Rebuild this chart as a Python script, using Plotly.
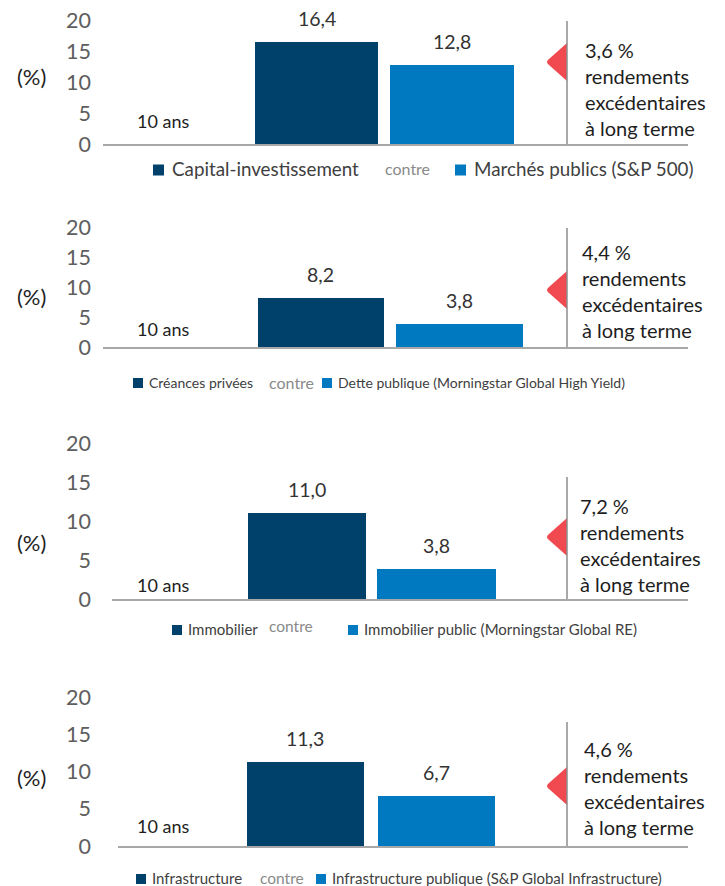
import plotly.graph_objects as go

# ---------------- data ----------------
horizon_label = "10 ans"
private_names = ["Capital-investissement", "Créances privées", "Immobilier", "Infrastructure"]
public_names = ["Marchés publics (S&P 500)",
                "Dette publique (Morningstar Global High Yield)",
                "Immobilier public (Morningstar Global RE)",
                "Infrastructure publique (S&P Global Infrastructure)"]
private_returns = [16.4, 8.2, 11.0, 11.3]
public_returns = [12.8, 3.8, 3.8, 6.7]
excess_returns = [3.6, 4.4, 7.2, 4.6]
excess_text = ["rendements", "excédentaires", "à long terme"]
versus_word = "contre"
y_unit = "(%)"
y_ticks = [0, 5, 10, 15, 20]

# ---------------- styling / layout ----------------
W, H = 725, 886
FONT = "Lato, 'Liberation Sans', sans-serif"
DARK = "#00416B"
LIGHT = "#0079C1"
RED = "#F04A50"
GREY_TXT = "#5E5E5E"
AXIS_GREY = "#A8A8A8"
TXT = "#1E1E1E"

panels = [
    dict(y0=144, y20=20, xl=103, xr=688, rng=(-1.576, 2.742), bw=0.908,
         vtop=21, arrow_c=62, txt_x=583, txt_c=88.5, pct_y=76, ans_y=121,
         leg_y=169, leg_fs=18.8, contre_fs=16, sq=11,
         leg_x=[153, 170, 383, 455, 472]),
    dict(y0=347, y20=227, xl=103, xr=688, rng=(-1.574, 2.65), bw=0.91,
         vtop=228, arrow_c=290, txt_x=580, txt_c=290.5, pct_y=296, ans_y=329,
         leg_y=382, leg_fs=14, contre_fs=16, sq=10,
         leg_x=[133, 147, 267, 322, 336]),
    dict(y0=599, y20=443, xl=112, xr=688, rng=(-1.506, 2.942), bw=0.915,
         vtop=477, arrow_c=537, txt_x=578, txt_c=544.5, pct_y=542, ans_y=585,
         leg_y=629, leg_fs=15, contre_fs=15.5, sq=10,
         leg_x=[172, 186, 267, 348, 362], contre_dy=-3),
    dict(y0=846, y20=697, xl=118, xr=688, rng=(-1.431, 2.92), bw=0.897,
         vtop=722, arrow_c=786, txt_x=582, txt_c=787.5, pct_y=777, ans_y=826,
         leg_y=878, leg_fs=15, contre_fs=15.5, sq=10,
         leg_x=[136, 150, 258, 316, 330]),
]

def px(x):
    return x / W

def py(y):
    return 1 - y / H

def fmt(v):
    return f"{v:.1f}".replace(".", ",")

fig = go.Figure()
annotations = []
shapes = []
layout_axes = {}

for i, p in enumerate(panels):
    n = "" if i == 0 else str(i + 1)
    xa, ya = "x" + n, "y" + n
    cats = [private_names[i], public_names[i]]
    vals = [private_returns[i], public_returns[i]]
    fig.add_trace(go.Bar(
        x=cats, y=vals, width=p["bw"],
        marker=dict(color=[DARK, LIGHT], line=dict(width=0)),
        xaxis=xa, yaxis=ya, showlegend=False, hoverinfo="skip",
    ))
    # value labels above bars
    for c, v in zip(cats, vals):
        annotations.append(dict(
            x=c, y=v, xref=xa, yref=ya, text=fmt(v), showarrow=False,
            yanchor="bottom", yshift=10, font=dict(family=FONT, size=19.5, color="#333333")))

    layout_axes["xaxis" + n] = dict(
        domain=[px(p["xl"]), px(p["xr"])], anchor=ya, type="category",
        range=list(p["rng"]), showline=True, linecolor=AXIS_GREY, linewidth=2,
        showticklabels=False, ticks="", showgrid=False, zeroline=False,
        fixedrange=True, automargin=False)
    layout_axes["yaxis" + n] = dict(
        domain=[py(p["y0"]), py(p["y20"])], anchor=xa, range=[0, 20],
        tickvals=y_ticks, ticktext=[str(t) for t in y_ticks], ticks="",
        showgrid=False, zeroline=False, showline=False, automargin=False,
        ticklabelstandoff=max(p["xl"] - 88 - 4, 0),
        tickfont=dict(family=FONT, size=21.5, color=GREY_TXT), fixedrange=True)

    # (%) label
    annotations.append(dict(x=px(32), y=py(p["pct_y"]), xref="paper", yref="paper",
                            text=y_unit, showarrow=False, xanchor="center", yanchor="middle",
                            font=dict(family=FONT, size=22, color=TXT)))
    # horizon label
    annotations.append(dict(x=px(163), y=py(p["ans_y"]), xref="paper", yref="paper",
                            text=horizon_label, showarrow=False, xanchor="center", yanchor="middle",
                            font=dict(family=FONT, size=18, color=TXT)))
    # right text block
    block = "<br>".join([f"{fmt(excess_returns[i])} %"] + excess_text)
    annotations.append(dict(x=px(p["txt_x"]), y=py(p["txt_c"]), xref="paper", yref="paper",
                            text=block, showarrow=False, xanchor="left", yanchor="middle",
                            align="left", font=dict(family=FONT, size=20, color=TXT)))
    # vertical divider
    shapes.append(dict(type="line", xref="paper", yref="paper",
                       x0=px(567), x1=px(567), y0=py(p["vtop"]), y1=py(p["y0"]),
                       line=dict(color="#8C8C8C", width=1.5)))
    # red arrow
    c = p["arrow_c"]
    pts = [(567, c - 19), (549, c - 3), (545, c), (549, c + 3), (567, c + 19)]
    path = (f"M {px(pts[0][0])},{py(pts[0][1])} L {px(pts[1][0])},{py(pts[1][1])} "
            f"Q {px(pts[2][0])},{py(pts[2][1])} {px(pts[3][0])},{py(pts[3][1])} "
            f"L {px(pts[4][0])},{py(pts[4][1])} Z")
    shapes.append(dict(type="path", xref="paper", yref="paper", path=path,
                       fillcolor=RED, line=dict(width=0), layer="below"))

    # legend row
    lx = p["leg_x"]
    ly = p["leg_y"]
    s = p["sq"]
    for sx, col in ((lx[0], DARK), (lx[3], LIGHT)):
        shapes.append(dict(type="rect", xref="paper", yref="paper",
                           x0=px(sx), x1=px(sx + s), y0=py(ly + s / 2 + 1), y1=py(ly - s / 2 + 1),
                           fillcolor=col, line=dict(width=0)))
    annotations.append(dict(x=px(lx[1]), y=py(ly), xref="paper", yref="paper",
                            text=private_names[i], showarrow=False, xanchor="left", yanchor="middle",
                            font=dict(family=FONT, size=p["leg_fs"], color="#404040")))
    annotations.append(dict(x=px(lx[2]), y=py(ly + p.get("contre_dy", 0)), xref="paper", yref="paper",
                            text=versus_word, showarrow=False, xanchor="left", yanchor="middle",
                            font=dict(family=FONT, size=p["contre_fs"], color="#8A8A8A")))
    annotations.append(dict(x=px(lx[4]), y=py(ly), xref="paper", yref="paper",
                            text=public_names[i], showarrow=False, xanchor="left", yanchor="middle",
                            font=dict(family=FONT, size=p["leg_fs"], color="#404040")))

fig.update_layout(
    width=W, height=H, margin=dict(l=0, r=0, t=0, b=0, pad=0, autoexpand=False),
    paper_bgcolor="white", plot_bgcolor="rgba(0,0,0,0)",
    font=dict(family=FONT, color=TXT),
    annotations=annotations, shapes=shapes, showlegend=False, bargap=0,
    **layout_axes,
)

fig.write_html("out.html", config={"displayModeBar": False},
               post_script="document.body.style.margin='0';document.body.style.overflow='hidden';")
